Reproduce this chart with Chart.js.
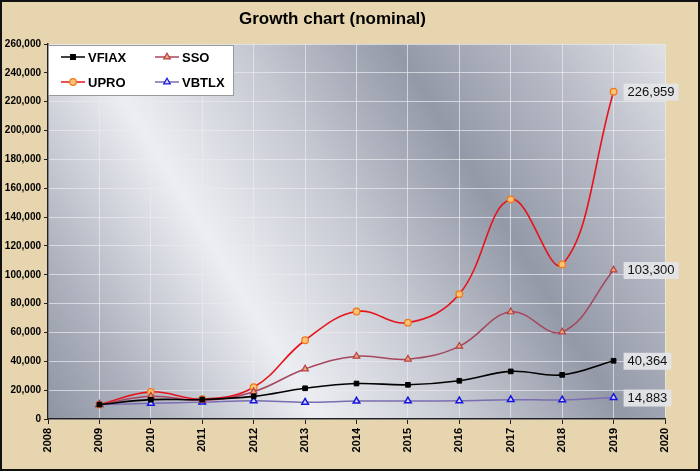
<!DOCTYPE html>
<html>
<head>
<meta charset="utf-8">
<script src="https://cdn.jsdelivr.net/npm/chart.js@4"></script>
<style>
body { margin:0; background:#e6d5ae; }
canvas { display:block; }
</style>
</head>
<body>
<canvas id="growth" width="700" height="471"></canvas>
<script>
var years = [2009, 2010, 2011, 2012, 2013, 2014, 2015, 2016, 2017, 2018, 2019];
var vfiax = [10000, 13400, 13500, 15700, 21300, 24600, 23700, 26500, 33000, 30600, 40364];
var sso   = [10000, 15800, 13000, 18900, 34700, 43500, 41500, 50400, 74300, 60400, 103300];
var upro  = [10000, 18800, 13800, 22000, 54600, 74500, 66800, 86600, 152300, 107200, 226959];
var vbtlx = [10000, 10900, 11700, 12600, 11600, 12400, 12500, 12600, 13400, 13200, 14883];
var seriesNames = ["VFIAX", "SSO", "UPRO", "VBTLX"];

function toPoints(vals) {
    return vals.map(function (v, i) { return {x: years[i], y: v}; });
}

// marker drawing shared by legend
function drawMarker(ctx, style, x, y, r, fill, stroke) {
    ctx.save();
    ctx.fillStyle = fill;
    ctx.strokeStyle = stroke;
    ctx.lineWidth = 1.2;
    ctx.beginPath();
    if (style === 'rect') {
        var s = r * Math.SQRT1_2;
        ctx.rect(x - s, y - s, 2 * s, 2 * s);
    } else if (style === 'triangle') {
        ctx.moveTo(x, y - r);
        ctx.lineTo(x + r * 0.87, y + r * 0.5);
        ctx.lineTo(x - r * 0.87, y + r * 0.5);
        ctx.closePath();
    } else {
        ctx.arc(x, y, r, 0, Math.PI * 2);
    }
    ctx.fill();
    ctx.stroke();
    ctx.restore();
}

var backdrop = {
    id: 'backdrop',
    beforeDraw: function (chart) {
        let ctx = chart.ctx;
        let a = chart.chartArea;
        ctx.save();
        ctx.fillStyle = '#e6d5ae';
        ctx.fillRect(0, 0, chart.width, chart.height);
        let g = ctx.createLinearGradient(a.left, a.bottom, a.right, a.top);
        g.addColorStop(0, '#8f94a3');
        g.addColorStop(0.12, '#aeb2be');
        g.addColorStop(0.32, '#eceef2');
        g.addColorStop(0.5, '#c6c9d2');
        g.addColorStop(0.68, '#9499a8');
        g.addColorStop(0.85, '#b9bcc7');
        g.addColorStop(1, '#dfe1e6');
        ctx.fillStyle = g;
        ctx.fillRect(a.left, a.top, a.right - a.left, a.bottom - a.top);
        ctx.restore();
    },
    afterDraw: function (chart) {
        let ctx = chart.ctx;
        ctx.save();
        ctx.strokeStyle = '#111';
        ctx.lineWidth = 2;
        ctx.strokeRect(1, 1, chart.width - 2, chart.height - 2);
        ctx.restore();
    }
};

var endLabels = {
    id: 'endLabels',
    afterDatasetsDraw: function (chart) {
        let ctx = chart.ctx;
        ctx.save();
        ctx.font = '13px "Liberation Sans", Arial, sans-serif';
        ctx.textBaseline = 'middle';
        chart.data.datasets.forEach(function (ds, i) {
            let meta = chart.getDatasetMeta(i);
            let pt = meta.data[meta.data.length - 1];
            let val = ds.data[ds.data.length - 1].y;
            let txt = val.toLocaleString('en-US');
            let w = ctx.measureText(txt).width + 8;
            let bx = pt.x + 10, by = pt.y - 8;
            ctx.fillStyle = 'rgba(228,229,232,0.95)';
            ctx.fillRect(bx, by, w, 17);
            ctx.fillStyle = '#111';
            ctx.fillText(txt, bx + 4, pt.y + 0.5);
        });
        ctx.restore();
    }
};

var boxLegend = {
    id: 'boxLegend',
    afterDatasetsDraw: function (chart) {
        let ctx = chart.ctx;
        let a = chart.chartArea;
        ctx.save();
        ctx.fillStyle = '#ffffff';
        ctx.strokeStyle = '#9a9a9a';
        ctx.lineWidth = 1;
        ctx.fillRect(a.left, a.top + 1, 186, 51);
        ctx.strokeRect(a.left + 0.5, a.top + 1.5, 185, 50);
        ctx.font = 'bold 13px "Liberation Sans", Arial, sans-serif';
        ctx.textBaseline = 'middle';
        let order = [0, 1, 2, 3];
        order.forEach(function (i) {
            let ds = chart.data.datasets[i];
            let col = i % 2, row = Math.floor(i / 2);
            let lx = 61 + col * 94;
            let ly = 57 + row * 25;
            ctx.strokeStyle = ds.borderColor;
            ctx.lineWidth = 1.5;
            ctx.beginPath();
            ctx.moveTo(lx, ly);
            ctx.lineTo(lx + 24, ly);
            ctx.stroke();
            drawMarker(ctx, ds.pointStyle, lx + 12, ly, ds.pointRadius, ds.pointBackgroundColor, ds.pointBorderColor);
            ctx.fillStyle = '#000';
            ctx.fillText(ds.label, lx + 27, ly + 1);
        });
        ctx.restore();
    }
};

var datasets = [
    {
        label: seriesNames[0], data: toPoints(vfiax),
        borderColor: '#000000', borderWidth: 1.6,
        pointStyle: 'rect', pointRadius: 3.3,
        pointBackgroundColor: '#000000', pointBorderColor: '#000000', pointBorderWidth: 1
    },
    {
        label: seriesNames[1], data: toPoints(sso),
        borderColor: '#a6465e', borderWidth: 1.5,
        pointStyle: 'triangle', pointRadius: 3.8,
        pointBackgroundColor: '#f5a86e', pointBorderColor: '#b3404a', pointBorderWidth: 1.2
    },
    {
        label: seriesNames[2], data: toPoints(upro),
        borderColor: '#e5141c', borderWidth: 1.6,
        pointStyle: 'circle', pointRadius: 3.3,
        pointBackgroundColor: '#fbc27a', pointBorderColor: '#f07a1a', pointBorderWidth: 1.3
    },
    {
        label: seriesNames[3], data: toPoints(vbtlx),
        borderColor: '#7a6cb0', borderWidth: 1.5,
        pointStyle: 'triangle', pointRadius: 3.8,
        pointBackgroundColor: '#d6d9f3', pointBorderColor: '#1414e0', pointBorderWidth: 1.5
    }
];

var tickFont = {family: '"Liberation Sans", Arial, sans-serif', size: 10, weight: 'bold'};

var chart = new Chart(document.getElementById('growth').getContext('2d'), {
    type: 'line',
    data: {datasets: datasets},
    options: {
        responsive: false,
        animation: false,
        layout: {padding: {top: 0, right: 35, left: 0, bottom: 0}},
        elements: {line: {tension: 0.4, fill: false}},
        plugins: {
            legend: {display: false},
            tooltip: {enabled: false},
            title: {
                display: true,
                text: 'Growth chart (nominal)',
                color: '#000',
                font: {family: '"Liberation Sans", Arial, sans-serif', size: 17, weight: 'bold'},
                padding: {top: 9, bottom: 14.6}
            }
        },
        scales: {
            x: {
                type: 'linear', min: 2008, max: 2020,
                afterFit: function (s) { s.height = 52; },
                ticks: {
                    stepSize: 1, autoSkip: false,
                    minRotation: 90, maxRotation: 90,
                    color: '#000', font: {family: '"Liberation Sans", Arial, sans-serif', size: 11, weight: 'bold'},
                    padding: 4,
                    callback: function (v) { return String(v); }
                },
                grid: {color: 'rgba(235,235,240,0.7)', tickColor: '#222', tickLength: 5, lineWidth: 1},
                border: {color: '#222', width: 1.5}
            },
            y: {
                min: 0, max: 260000,
                afterFit: function (s) { s.width = 48; },
                ticks: {
                    stepSize: 20000, color: '#000', font: tickFont, padding: 3,
                    callback: function (v) { return v.toLocaleString('en-US'); }
                },
                grid: {color: 'rgba(235,235,240,0.7)', tickColor: '#222', tickLength: 4, lineWidth: 1},
                border: {color: '#222', width: 1.5}
            }
        }
    },
    plugins: [backdrop, endLabels, boxLegend]
});
</script>
</body>
</html>
